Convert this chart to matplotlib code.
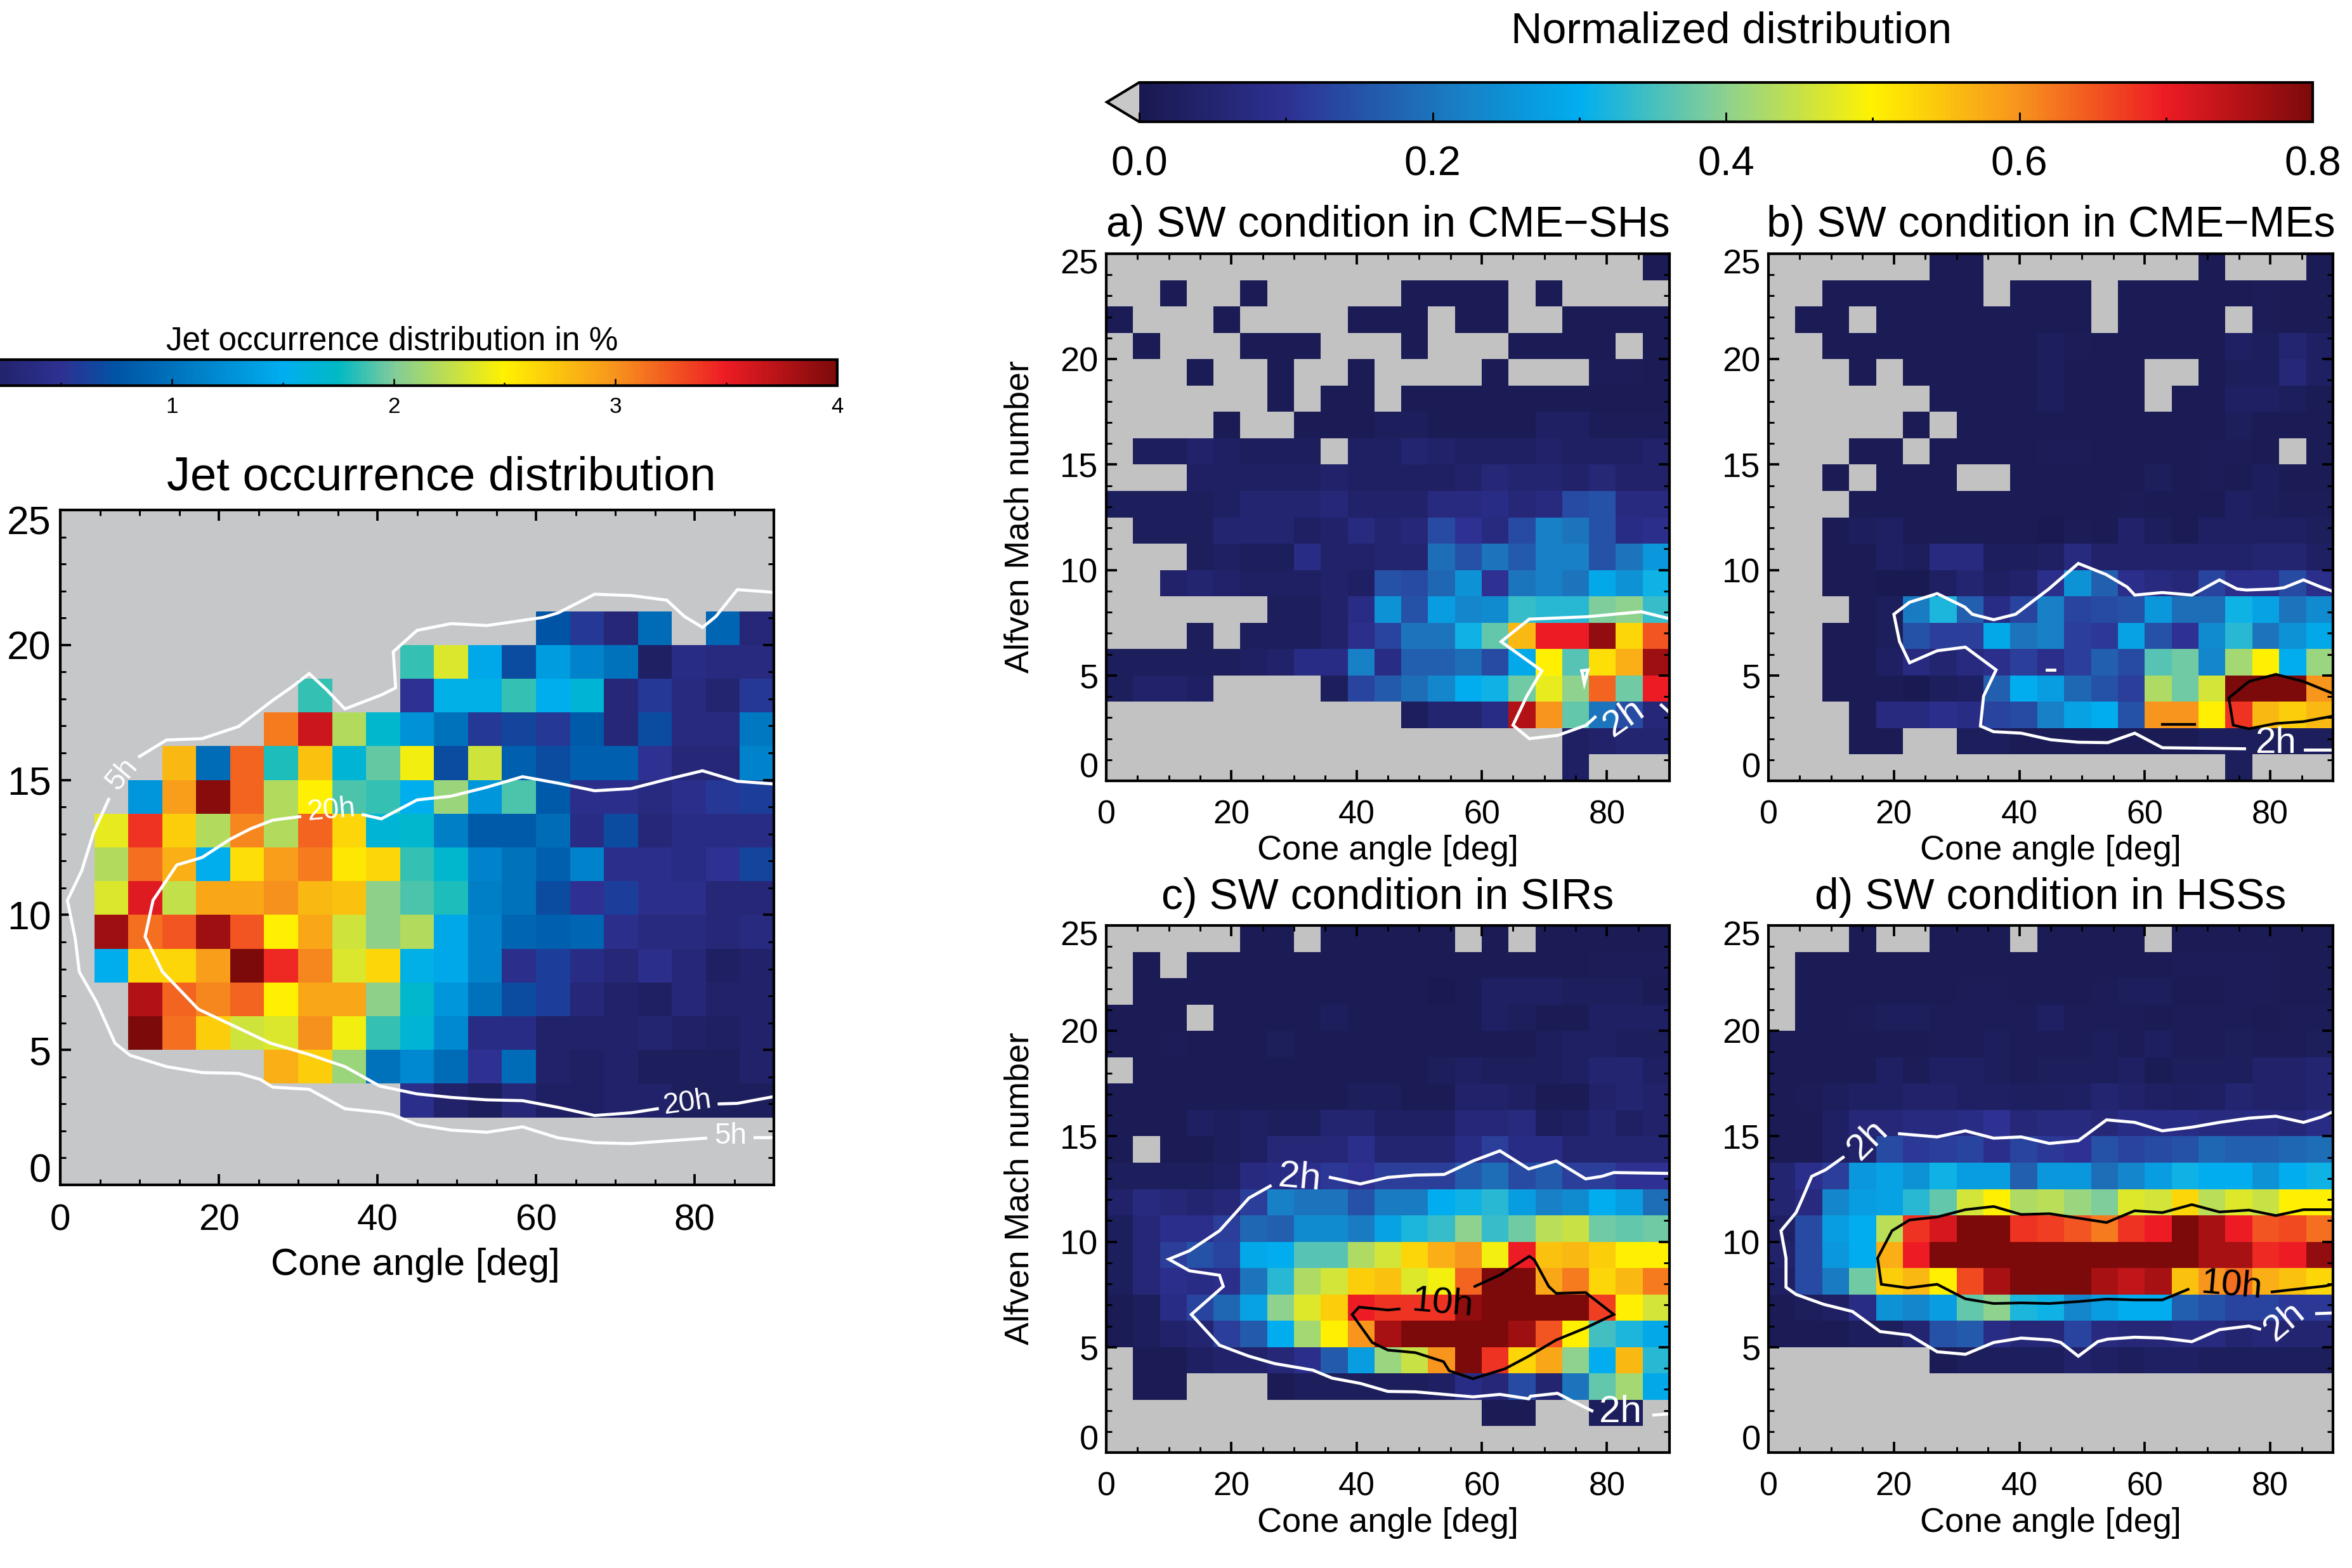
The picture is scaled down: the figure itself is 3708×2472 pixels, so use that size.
import numpy as np
import matplotlib
matplotlib.use('Agg')
from matplotlib import pyplot as plt
from matplotlib.colors import LinearSegmentedColormap
from matplotlib.transforms import ScaledTranslation

plt.rcParams['font.family'] = ['Liberation Sans', 'DejaVu Sans']

N = np.nan

# occurrence in %, rows from y=25 down to y=0, 21 cone angle bins
jet_grid = [
    [N,N,N,N,N,N,N,N,N,N,N,N,N,N,N,N,N,N,N,N,N],
    [N,N,N,N,N,N,N,N,N,N,N,N,N,N,N,N,N,N,N,N,N],
    [N,N,N,N,N,N,N,N,N,N,N,N,N,N,N,N,N,N,N,N,N],
    [N,N,N,N,N,N,N,N,N,N,N,N,N,N,.75,.55,.3,.95,N,.9,.3],
    [N,N,N,N,N,N,N,N,N,N,1.85,2.35,1.45,.7,1.35,1.15,1.0,.15,.4,.35,.35],
    [N,N,N,N,N,N,N,1.85,N,N,.5,1.55,1.55,1.85,1.5,1.65,.3,.55,.35,.25,.55],
    [N,N,N,N,N,N,3.1,3.65,2.2,1.7,1.25,1.0,.55,.65,.55,.8,.3,.7,.35,.35,1.05],
    [N,N,N,2.8,.95,3.2,1.8,2.75,1.65,1.95,2.45,.7,2.3,.85,.7,.85,.85,.5,.3,.3,1.15],
    [N,N,1.3,2.95,3.95,3.2,2.2,2.5,1.9,1.85,1.5,2.1,1.3,1.9,.8,.45,.45,.35,.45,.55,.6],
    [N,2.4,3.4,2.7,2.2,3.05,2.2,3.2,2.65,1.65,1.7,1.1,.8,.8,.95,.4,.7,.3,.4,.4,.4],
    [N,2.2,3.15,2.85,1.5,2.6,2.95,3.1,2.55,2.65,1.85,1.7,1.15,1.0,.85,1.15,.45,.45,.4,.5,.65],
    [N,2.35,3.55,2.25,2.9,2.9,3.0,2.8,2.75,2.05,1.9,1.8,1.1,1.0,.7,.5,.6,.45,.45,.3,.3],
    [N,3.85,3.15,3.25,3.85,3.25,2.5,2.9,2.3,2.05,2.2,1.45,1.15,.9,.85,.9,.45,.35,.35,.3,.35],
    [N,1.5,2.65,2.65,2.95,4.0,3.45,3.05,2.35,2.65,1.55,1.45,1.15,.45,.6,.4,.3,.45,.3,.15,.2],
    [N,N,3.75,3.2,3.05,3.2,2.5,2.9,2.9,2.05,1.7,1.3,1.0,.7,.6,.3,.2,.15,.3,.2,.2],
    [N,N,4.0,3.15,2.7,2.3,2.35,3.0,2.45,1.85,1.65,1.2,.4,.4,.2,.2,.2,.25,.18,.15,.2],
    [N,N,N,N,N,N,2.85,2.7,2.1,1.0,1.2,.95,.5,.95,.2,.15,.2,.1,.1,.1,.2],
    [N,N,N,N,N,N,N,N,N,N,.45,.2,.1,.3,.15,.15,.2,.2,.1,.1,.1],
    [N,N,N,N,N,N,N,N,N,N,N,N,N,N,N,N,N,N,N,N,N],
    [N,N,N,N,N,N,N,N,N,N,N,N,N,N,N,N,N,N,N,N,N],
]

grid_a = [
    [N,N,N,N,N,N,N,N,N,N,N,N,N,N,N,N,N,N,N,N,.01],
    [N,N,.01,N,N,.01,N,N,N,N,N,.01,.01,.01,.01,N,.01,N,N,N,N],
    [.01,N,N,N,.01,N,N,N,N,.01,.01,.01,N,.01,.01,N,N,.01,.01,.01,.01],
    [N,.01,N,N,N,.01,.01,.01,N,N,N,.01,N,N,N,.01,.01,.01,.01,N,.01],
    [N,N,N,.01,N,N,.01,N,N,.01,N,N,N,N,.01,N,N,N,.015,.015,.01],
    [N,N,N,N,N,N,.01,N,.01,.01,N,.01,.01,.01,.01,.01,.01,.01,.01,.012,.012],
    [N,N,N,N,.01,N,N,.01,.01,.01,.02,.02,.01,.01,.012,.012,.03,.03,.015,.015,.015],
    [N,.02,.02,.04,.03,.02,.02,.02,N,.03,.03,.05,.04,.03,.03,.03,.04,.03,.03,.03,.04],
    [N,N,N,.03,.03,.03,.03,.03,.04,.03,.03,.03,.03,.04,.06,.05,.05,.04,.06,.04,.04],
    [.02,.02,.02,.02,.03,.05,.05,.05,.06,.04,.04,.04,.07,.07,.08,.06,.07,.14,.15,.07,.07],
    [N,.02,.02,.02,.05,.05,.05,.03,.04,.07,.05,.06,.14,.1,.07,.14,.22,.2,.15,.08,.09],
    [N,N,N,.02,.03,.02,.02,.08,.04,.04,.05,.05,.19,.15,.2,.16,.22,.22,.15,.2,.26],
    [N,N,.04,.05,.04,.03,.03,.03,.04,.03,.15,.14,.18,.25,.1,.2,.22,.2,.29,.25,.31],
    [N,N,N,N,N,N,.02,.02,.04,.08,.25,.15,.27,.23,.24,.34,.33,.33,.39,.4,.34],
    [N,N,N,.02,N,.02,.02,.02,.04,.09,.13,.2,.2,.31,.37,.56,.7,.7,.78,.53,.65],
    [.02,.02,.02,.02,.02,.03,.04,.08,.08,.22,.08,.17,.17,.19,.14,.29,.5,.36,.52,.57,.77],
    [.02,.04,.04,.03,N,N,N,N,.02,.13,.16,.19,.23,.3,.31,.38,.48,.4,.64,.38,.7],
    [N,N,N,N,N,N,N,N,N,N,N,.02,.05,.05,.08,.75,.6,.37,.2,.14,.06],
    [N,N,N,N,N,N,N,N,N,N,N,N,N,N,N,N,N,.03,.04,.05,.05],
    [N,N,N,N,N,N,N,N,N,N,N,N,N,N,N,N,N,.03,N,N,N],
]

grid_b = [
    [N,N,N,N,N,N,.01,.01,N,N,N,N,N,N,N,N,.01,N,N,N,.01],
    [N,N,.01,.01,.01,.01,.01,.01,N,.01,.01,.01,N,.01,.01,.01,.01,.01,.015,.01,.01],
    [N,.01,.01,N,.01,.01,.01,.01,.01,.01,.012,.01,N,.01,.01,.01,.01,N,.015,.01,.01],
    [N,N,.01,.01,.01,.01,.01,.01,.01,.01,.02,.015,.01,.01,.01,.01,.01,.03,.02,.05,.03],
    [N,N,N,.01,N,.01,.01,.01,.01,.01,.02,.012,.01,.01,N,N,.012,.02,.02,.06,.03],
    [N,N,N,N,N,N,.01,.01,.01,.01,.02,.012,.01,.01,N,.01,.012,.03,.03,.02,.01],
    [N,N,N,N,N,.01,N,.01,.01,.01,.012,.012,.01,.01,.012,.012,.012,.02,.012,.012,.012],
    [N,N,N,.01,.01,N,.01,.01,.01,.012,.015,.015,.01,.01,.012,.012,.015,.015,.012,N,.01],
    [N,N,.01,N,.01,.01,.01,N,N,.01,.012,.01,.01,.012,.02,.01,.015,.01,.02,.01,.012],
    [N,N,N,.01,.01,.01,.01,.01,.01,.01,.01,.012,.012,.015,.012,.012,.01,.03,.02,.015,.015],
    [N,N,.01,.02,.03,.012,.012,.012,.01,.01,.005,.015,.012,.04,.02,.012,.03,.03,.03,.03,.02],
    [N,N,.01,.01,.03,.02,.07,.07,.02,.02,.03,.07,.04,.04,.04,.04,.04,.04,.05,.05,.03],
    [N,N,.01,.01,.005,.005,.03,.05,.03,.04,.09,.25,.17,.09,.07,.06,.13,.09,.09,.14,.09],
    [N,N,N,.01,.02,.21,.32,.17,.08,.13,.22,.13,.14,.15,.26,.19,.19,.31,.28,.2,.24],
    [N,N,.01,.01,.02,.15,.12,.12,.29,.2,.22,.12,.11,.28,.15,.1,.24,.33,.2,.25,.29],
    [N,N,.01,.01,.03,.07,.05,.07,.09,.12,.09,.12,.17,.14,.36,.38,.23,.42,.5,.3,.41],
    [N,N,.01,.01,.01,.005,.02,.03,.17,.3,.27,.18,.15,.12,.43,.38,.46,.8,.8,.8,.6],
    [N,N,N,.01,.07,.07,.09,.08,.13,.14,.22,.28,.3,.15,.6,.6,.5,.68,.56,.54,.56],
    [N,N,N,.01,.01,N,N,.02,.02,.01,.01,.01,.01,.01,.01,.01,.02,.02,.02,.02,.02],
    [N,N,N,N,N,N,N,N,N,N,N,N,N,N,N,N,N,.02,N,N,N],
]

grid_c = [
    [N,N,N,N,N,.01,.01,N,.01,.01,.01,.01,.01,N,.01,N,.01,.01,.01,.01,.01],
    [N,.01,N,.01,.01,.01,.01,.01,.01,.01,.012,.012,.01,.01,.01,.01,.012,.012,.015,.015,.015],
    [N,.01,.01,.01,.01,.01,.01,.01,.01,.01,.01,.01,.005,.01,.03,.03,.03,.02,.02,.02,.012],
    [.01,.012,.01,N,.01,.01,.01,.01,.02,.01,.01,.01,.01,.01,.03,.02,.01,.01,.03,.03,.03],
    [.01,.01,.015,.01,.01,.01,.02,.01,.01,.01,.01,.01,.01,.01,.012,.012,.02,.03,.03,.02,.02],
    [N,.01,.01,.01,.01,.01,.01,.01,.01,.01,.01,.012,.02,.03,.02,.02,.02,.03,.05,.05,.03],
    [.01,.01,.01,.01,.01,.012,.012,.01,.01,.02,.02,.01,.01,.04,.04,.03,.012,.012,.04,.05,.04],
    [.01,.01,.01,.03,.02,.03,.02,.02,.05,.05,.03,.03,.03,.06,.06,.07,.02,.03,.05,.03,.04],
    [.01,N,.01,.01,.02,.03,.06,.06,.06,.09,.05,.05,.05,.08,.12,.08,.08,.05,.05,.05,.05],
    [.02,.02,.02,.02,.03,.07,.08,.09,.11,.1,.12,.12,.12,.16,.19,.14,.16,.12,.12,.1,.1],
    [.04,.07,.06,.05,.06,.12,.22,.2,.2,.15,.21,.21,.3,.31,.33,.27,.22,.24,.3,.27,.19],
    [.02,.06,.09,.09,.12,.18,.17,.24,.24,.21,.28,.32,.34,.4,.34,.38,.44,.45,.38,.37,.38],
    [.02,.06,.12,.15,.13,.29,.3,.36,.36,.43,.46,.53,.57,.6,.49,.7,.55,.56,.54,.5,.5],
    [.02,.06,.09,.08,.09,.2,.33,.43,.46,.54,.55,.47,.49,.64,.8,.8,.58,.62,.53,.56,.62],
    [.01,.02,.08,.13,.18,.28,.4,.47,.54,.7,.68,.68,.68,.78,.8,.8,.8,.8,.67,.5,.46],
    [.01,.02,.04,.05,.12,.16,.3,.42,.5,.6,.76,.8,.8,.8,.8,.77,.65,.5,.35,.32,.29],
    [N,.01,.01,.03,.04,.04,.06,.09,.16,.27,.41,.45,.6,.8,.68,.53,.58,.4,.3,.56,.33],
    [N,.01,.01,N,N,N,.01,.02,.02,.02,.02,.02,.03,.08,.06,.14,.05,.2,.37,.42,.29],
    [N,N,N,N,N,N,N,N,N,N,N,N,N,N,.01,.01,N,N,.02,.02,N],
    [N,N,N,N,N,N,N,N,N,N,N,N,N,N,N,N,N,N,N,N,N],
]

grid_d = [
    [N,N,N,.01,N,N,.01,.01,.01,N,.01,.01,.01,.01,N,.01,.01,.01,.01,.01,.01],
    [N,.01,.01,.01,.01,.01,.01,.01,.01,.01,.012,.012,.012,.012,.012,.015,.015,.015,.015,.012,.012],
    [N,.01,.01,.012,.012,.012,.012,.015,.015,.012,.012,.012,.015,.02,.02,.012,.012,.015,.015,.012,.012],
    [N,.01,.012,.015,.02,.02,.015,.015,.015,.015,.03,.015,.015,.015,.012,.015,.015,.015,.012,.015,.015],
    [.01,.01,.01,.012,.012,.012,.015,.015,.02,.015,.015,.015,.02,.015,.025,.015,.015,.02,.015,.015,.02],
    [.01,.01,.012,.012,.03,.015,.03,.03,.02,.015,.02,.02,.02,.03,.01,.02,.02,.02,.04,.04,.05],
    [.01,.015,.02,.03,.03,.04,.04,.03,.03,.025,.025,.03,.05,.04,.03,.025,.03,.05,.04,.04,.05],
    [.01,.01,.03,.06,.06,.07,.07,.08,.1,.06,.07,.07,.06,.08,.08,.08,.07,.07,.07,.06,.08],
    [.01,.01,.03,.04,.14,.11,.12,.13,.09,.13,.11,.1,.15,.13,.14,.15,.18,.17,.17,.18,.19],
    [.05,.09,.12,.26,.28,.25,.31,.27,.27,.17,.26,.26,.19,.23,.27,.31,.3,.3,.25,.3,.31],
    [.05,.07,.23,.27,.28,.33,.37,.46,.5,.43,.44,.41,.39,.47,.46,.53,.44,.47,.45,.5,.5],
    [.03,.14,.27,.3,.44,.68,.72,.8,.8,.68,.67,.65,.62,.68,.7,.8,.76,.7,.65,.66,.63],
    [.04,.14,.26,.3,.57,.7,.8,.8,.8,.8,.8,.8,.8,.8,.8,.8,.76,.76,.69,.7,.78],
    [.03,.14,.21,.38,.54,.56,.5,.66,.76,.8,.8,.8,.76,.74,.76,.55,.6,.63,.57,.55,.53],
    [.01,.02,.03,.08,.25,.23,.27,.37,.4,.32,.31,.23,.27,.3,.3,.17,.15,.13,.13,.11,.11],
    [.01,.01,.01,.02,.02,.05,.15,.16,.08,.06,.06,.13,.07,.06,.06,.07,.07,.05,.06,.05,.05],
    [N,N,N,N,N,N,.01,.02,.02,.02,.02,.04,.03,.02,.03,.03,.02,.02,.02,.02,.02],
    [N,N,N,N,N,N,N,N,N,N,N,N,N,N,N,N,N,N,N,N,N],
    [N,N,N,N,N,N,N,N,N,N,N,N,N,N,N,N,N,N,N,N,N],
    [N,N,N,N,N,N,N,N,N,N,N,N,N,N,N,N,N,N,N,N,N],
]

# contour traces, (cone angle, Mach number), broken where the labels sit
jet_5h = [
    [(90,21.95),(85.4,22.05),(82.7,21.06),(81,20.65),(78.7,21.06),(76.5,21.66),(72,21.83),(67.4,21.88),(62.8,21.19),
     (60.9,21.02),(53.8,20.72),(49.3,20.79),(45,20.54),(42,19.75),(42.3,18.41),(40.5,18.15),(35.9,17.63),(33.6,18.34),
     (31.4,18.94),(29.1,18.42),(26.8,17.95),(22.5,16.98),(17.9,16.53),(13.4,16.48),(10,15.87)],
    [(6.1,14.28),(4.2,13.05),(2.7,11.63),(0.9,10.54),(1.9,9.11),(2.4,7.89),(4.6,6.76),(6.9,5.25),(8.8,4.8),(13.4,4.38),
     (17.9,4.16),(22.5,4.13),(25.2,3.91),(26.8,3.62),(31.4,3.54),(35.9,2.82),(40.5,2.68),(41.9,2.6),(45,2.23),(49.3,2.03),
     (53.8,1.95),(58.3,2.15),(62.8,1.74),(67.4,1.56),(72,1.53),(76.6,1.63),(81.4,1.73)],
    [(87.6,1.76),(90,1.76)],
]
jet_20h = [
    [(90,14.85),(85.4,14.95),(81,15.34),(76.5,15.02),(72,14.68),(67.4,14.6),(62.8,14.88),(58.3,15.12),(53.8,14.73),
     (49.3,14.4),(45,14.26),(40.5,13.56),(38.2,13.71)],
    [(30.2,13.64),(26.8,13.51),(24,13.19),(21.4,12.8),(17.9,12.13),(14.7,11.85),(11.7,10.54),(10.7,9.19),(12.9,7.89),
     (17.4,6.51),(26.5,5.25),(31.4,4.83),(35.9,4.38),(40.3,3.66),(45,3.37),(49.3,3.24),(53.8,3.15),(58.3,3.12),(62.8,2.87),
     (67.4,2.57),(72,2.67),(75.3,2.82)],
    [(83.1,3.0),(85.4,3.02),(90,3.27)],
]
a_2h = [
    [(90,7.69),(85.5,8.02),(76.7,7.78),(67.6,7.67),(63.1,6.6),(69.6,5.22),(67.2,4.02),(65,2.64),(67.6,2.0),(72.2,2.16),
     (76.7,2.64),(78.1,3.02)],
    [(88.7,3.59),(90,3.24)],
    [(76,5.22),(77,5.26),(76.4,4.62),(76,5.22)],
]
b_2h = [
    [(90,8.98),(88.1,9.19),(85.3,9.53),(82.2,9.16),(80.6,9.1),(76.2,9.05),(74.7,9.1),(71.9,9.53),(67.5,8.81),(62.8,8.93),
     (58.4,8.81),(57.2,9.19),(53.8,9.79),(49.4,10.31),(44.7,9.1),(39.4,7.9),(35.9,7.64),(32.5,7.9),(31.3,8.24),(26.9,8.88),
     (22.5,8.47),(20,7.9),(20.9,6.6),(22.5,5.6),(26.9,6.17),(31.4,6.34),(36.3,5.26),(34.3,4.02),(33.8,2.6),(35.9,2.33),
     (40.3,2.26),(45,1.95),(49.4,1.83),(54.1,1.81),(58.4,2.26),(62.8,1.57),(75.9,1.52)],
    [(85.6,1.48),(90,1.48)],
    [(44.4,5.26),(45.6,5.26)],
]
b_10h = [
    [(90,4.14),(85.3,4.71),(80.9,5.05),(76.6,4.71),(73.4,3.93),(74.1,2.64),(76.6,2.47),(80.9,2.72),(85.3,2.81),(90,3.07)],
    [(62.8,2.67),(68,2.67)],
]
c_2h = [
    [(90,13.24),(81.1,13.28),(79.2,13.1),(76.6,12.98),(71.9,13.83),(67.5,13.45),(62.9,14.31),(58.6,13.83),(54,13.19),
     (49.4,13.16),(45,13.05),(40.6,12.74),(35.8,13.05)],
    [(26.2,12.64),(22.8,12.07),(18.1,10.52),(13.3,9.57),(10,9.17),(13.3,8.62),(18.1,8.41),(18.7,7.88),(13.6,6.55),(18.1,5.09),
     (22.8,4.57),(26.9,4.22),(33,3.91),(36.1,3.53),(40.6,3.28),(45,2.9),(49.4,2.88),(54,2.76),(58.6,2.64),(62.9,2.76),
     (67.5,2.55),(67.8,2.67),(72.1,2.81),(74.1,2.5),(77.6,1.98)],
    [(87.5,1.78),(90,1.84)],
]
c_10h = [
    [(58.9,7.88),(63.1,8.45),(67.6,9.31),(68.4,9.14),(70.7,7.88),(71.9,7.55),(76.6,7.59),(81.1,6.55),(76.6,5.91),(71.9,5.34),
     (67.5,4.57),(63.7,3.97),(58.6,3.5),(54.8,3.88),(53.9,4.31),(49.4,4.74),(45,4.86),(42.5,5.22),(39.3,6.55),(40.4,6.9),
     (45,6.76),(46.8,6.81)],
]
d_2h = [
    [(90,16.16),(88.1,15.91),(85.3,15.66),(80.9,15.95),(76.6,15.86),(71.9,15.66),(67.5,15.43),(62.8,15.26),(58.4,15.66),
     (53.9,15.78),(49.4,14.79),(44.8,14.66),(40.3,14.97),(35.9,14.91),(31.4,15.26),(26.9,14.97),(20.9,15.12)],
    [(11.9,14),(9.1,13.41),(6.9,13.1),(5.3,11.98),(4.4,11.38),(2,10.52),(2.8,9.22),(2.8,7.84),(4.4,7.5),(8.8,7.03),(13.4,6.69),
     (17.8,5.74),(22.5,5.57),(26.9,4.78),(31.4,4.66),(35.9,5.22),(40.3,5.43),(45,5.34),(46.6,5.22),(49.4,4.57),(52.5,5.26),
     (54.1,5.38),(58.4,5.47),(62.8,5.43),(67.5,5.26),(71.9,5.83),(76.6,6),(78.3,5.86)],
    [(87.4,6.59),(90,6.62)],
]
d_10h = [
    [(90,11.52),(85.3,11.52),(80.9,11.24),(76.6,11.5),(71.9,11.41),(67.5,11.76),(62.8,11.38),(58.4,11.47),(53.9,10.91),
     (49.4,11.12),(44.8,11.33),(40.3,11.29),(35.9,11.67),(31.4,11.52),(26.9,11.17),(22.5,11.03),(19.7,10.52),(17.4,9.22),
     (18,7.98),(22.2,7.81),(26.9,7.98),(31.4,7.29),(35.9,7.07),(40.3,7.1),(44.8,7.07),(49.4,7.16),(53.9,7.28),(58.4,7.24),
     (62.8,7.24),(66.9,7.74)],
    [(80.3,7.62),(88.8,7.9),(90,7.98)],
]

# label text, x, y, rotation
jet_labels = [('5h', 7.8, 15.2, 50), ('20h', 34.2, 13.86, 5), ('20h', 79.1, 3.04, 8), ('5h', 84.5, 1.8, 0)]
a_labels = [('2h', 82.7, 2.98, 35)]
b_labels = [('2h', 80.8, 1.78, 0)]
c_labels = [('2h', 30.9, 13.02, -5), ('2h', 82.1, 1.9, 0)]
c_black = [('10h', 53.7, 7.07, -5)]
d_labels = [('2h', 15.8, 14.83, 45), ('2h', 82.2, 6.21, 40)]
d_black = [('10h', 73.9, 7.93, -5)]

W, H = 3708, 2472
fig = plt.figure(figsize=(W / 300, H / 300), dpi=300)

jet_cmap = LinearSegmentedColormap.from_list('jet_occ', [
    (0, '#191950'), (.125, '#2e3192'), (.1875, '#0054a6'), (.25, '#0072bc'), (.375, '#00aeef'), (.4375, '#00b9c4'),
    (.5, '#80cc9a'), (.625, '#fff200'), (.75, '#f7941d'), (.875, '#ed1c24'), (1, '#7d0a0a')])
jet_cmap.set_bad('#c6c7c9')
norm_cmap = LinearSegmentedColormap.from_list('norm_dist', [
    (0, '#191950'), (.125, '#2e3192'), (.25, '#1c75bc'), (.375, '#00aeef'), (.5, '#8dd18f'),
    (.625, '#fff200'), (.75, '#f7941d'), (.875, '#ed1c24'), (1, '#7d0a0a')])
norm_cmap.set_bad('#c2c2c2')
norm_cmap.set_under('#c8c8c8')

x_edges = np.linspace(0, 90, 22)
y_edges = np.linspace(0, 25, 21)


def box(x0, y0, x1, y1):
    return [x0 / W, 1 - y1 / H, (x1 - x0) / W, (y1 - y0) / H]


def put(x, y, s, size, **kw):
    fig.text(x / W, 1 - (y + 5) / H, s, fontsize=size, ha='center', va='center', **kw)


def panel(rect, grid, cmap, vmax, ticksize, pad_y, ysize):
    ax = fig.add_axes(box(*rect))
    mesh = ax.pcolormesh(x_edges, y_edges, np.array(grid)[::-1], cmap=cmap, vmin=0, vmax=vmax, shading='flat')
    ax.set_xlim(0, 90)
    ax.set_ylim(0, 25)
    ax.set_xticks(np.arange(0, 81, 20))
    ax.set_xticks(np.arange(0, 91, 5), minor=True)
    ax.set_yticks(np.arange(0, 26, 5))
    ax.set_yticks(np.arange(0, 26, 1), minor=True)
    ax.tick_params(which='major', direction='in', top=True, right=True, length=4, width=.9, labelsize=ticksize)
    ax.tick_params(which='minor', direction='in', top=True, right=True, length=2.2, width=.7)
    ax.tick_params(axis='x', which='major', pad=7)
    ax.tick_params(axis='y', which='major', pad=pad_y, labelsize=ysize)
    labels = ax.get_yticklabels()
    # end labels sit inside the axis range, as in IDL plots
    labels[0].set_va('baseline')
    labels[0].set_transform(labels[0].get_transform() + ScaledTranslation(0, 1.2 / 72, fig.dpi_scale_trans))
    labels[-1].set_va('top')
    labels[-1].set_transform(labels[-1].get_transform() + ScaledTranslation(0, 1.7 / 72, fig.dpi_scale_trans))
    for sp in ax.spines.values():
        sp.set_linewidth(1.0)
    return ax, mesh


def draw_lines(ax, segs, color, lw=1.15):
    for seg in segs:
        xs, ys = zip(*seg)
        ax.plot(xs, ys, color=color, lw=lw, solid_joinstyle='miter', clip_on=True)


def draw_labels(ax, labels, color, size):
    for s, x, y, rot in labels:
        ax.text(x, y, s, color=color, fontsize=size, rotation=rot, ha='center', va='center')


# left panel
ax, mesh_jet = panel((95, 804, 1220, 1868), jet_grid, jet_cmap, 4, 14, 3.5, 15)
draw_lines(ax, jet_5h, 'white')
draw_lines(ax, jet_20h, 'white')
draw_labels(ax, jet_labels, 'white', 11)
put(696, 748, 'Jet occurrence distribution', 17.8)
put(655, 1989, 'Cone angle [deg]', 14.4)

cax = fig.add_axes(box(-78.7, 567, 1320, 608))
cb = fig.colorbar(mesh_jet, cax=cax, orientation='horizontal')
cb.set_ticks([1, 2, 3, 4])
cb.ax.set_xticks([.5, 1.5, 2.5, 3.5], minor=True)
cb.ax.tick_params(which='major', direction='in', length=2.6, width=.6, labelsize=8.4, pad=4)
cb.ax.tick_params(which='minor', direction='in', length=1.2, width=.6)
cb.outline.set_linewidth(1.0)
put(618, 533, 'Jet occurrence distribution in %', 12.3)

# right panels
a_rect = (1744, 400, 2632, 1231)
b_rect = (2788, 400, 3678, 1231)
c_rect = (1744, 1459, 2632, 2290)
d_rect = (2788, 1459, 3678, 2290)

ax_a, mesh_a = panel(a_rect, grid_a, norm_cmap, .8, 12.5, 3, 13)
draw_lines(ax_a, a_2h, 'white')
draw_labels(ax_a, a_labels, 'white', 14)

ax_b, mesh_b = panel(b_rect, grid_b, norm_cmap, .8, 12.5, 3, 13)
draw_lines(ax_b, b_2h, 'white')
draw_lines(ax_b, b_10h, 'black', 1.0)
draw_labels(ax_b, b_labels, 'white', 14)

ax_c, mesh_c = panel(c_rect, grid_c, norm_cmap, .8, 12.5, 3, 13)
draw_lines(ax_c, c_2h, 'white')
draw_lines(ax_c, c_10h, 'black', 1.0)
draw_labels(ax_c, c_labels, 'white', 14.5)
draw_labels(ax_c, c_black, 'black', 14)

ax_d, mesh_d = panel(d_rect, grid_d, norm_cmap, .8, 12.5, 3, 13)
draw_lines(ax_d, d_2h, 'white')
draw_lines(ax_d, d_10h, 'black', 1.0)
draw_labels(ax_d, d_labels, 'white', 14)
draw_labels(ax_d, d_black, 'black', 14)

put(2188, 350, 'a) SW condition in CME\u2212SHs', 16.3)
put(3233, 350, 'b) SW condition in CME\u2212MEs', 16.3)
put(2188, 1410, 'c) SW condition in SIRs', 16.3)
put(3233, 1410, 'd) SW condition in HSSs', 16.3)

for x, y in [(2188, 1336), (3233, 1336), (2188, 2396), (3233, 2396)]:
    put(x, y, 'Cone angle [deg]', 13)
for y in [815, 1874]:
    put(1608, y - 5, 'Alfven Mach number', 12.9, rotation=90)

cax2 = fig.add_axes(box(1745, 130, 3646, 192))
cb2 = fig.colorbar(mesh_a, cax=cax2, orientation='horizontal', extend='min', extendfrac=.0276)
cb2.set_ticks([0, .2, .4, .6, .8])
cb2.set_ticklabels(['0.0', '0.2', '0.4', '0.6', '0.8'])
cb2.ax.set_xticks([.1, .3, .5, .7], minor=True)
cb2.ax.tick_params(which='major', direction='in', length=3.6, width=.7, labelsize=15.5, pad=9)
cb2.ax.tick_params(which='minor', direction='in', length=1.8, width=.7)
cb2.outline.set_linewidth(1.0)
put(2730, 45, 'Normalized distribution', 16.4)

fig.savefig('out.png', dpi=300)
